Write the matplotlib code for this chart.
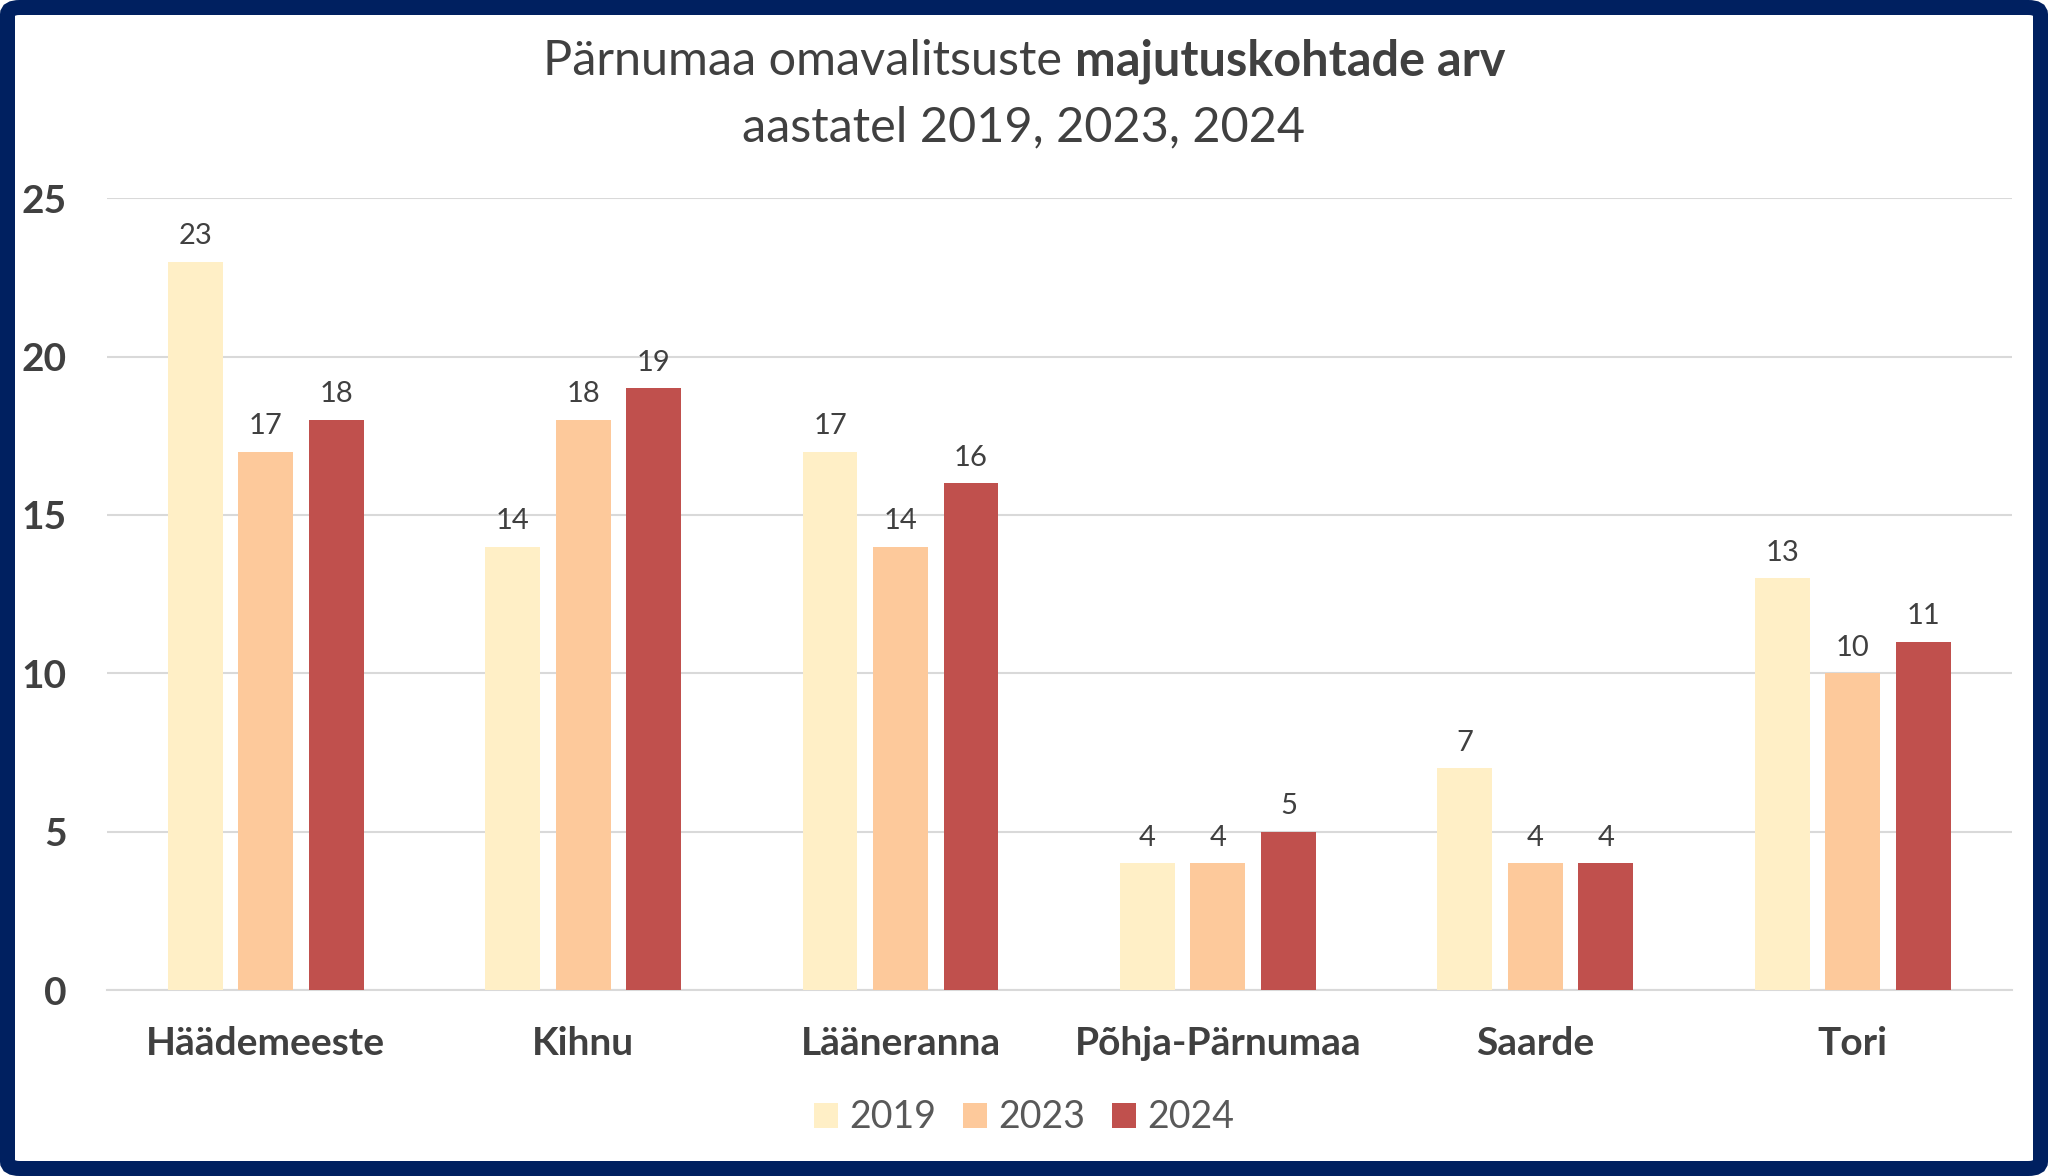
import matplotlib
matplotlib.use("Agg")
import matplotlib.pyplot as plt
import numpy as np
from matplotlib.patches import FancyBboxPatch, Patch

categories = ["Häädemeeste", "Kihnu", "Lääneranna", "Põhja-Pärnumaa", "Saarde", "Tori"]
years = ["2019", "2023", "2024"]
v2019 = [23, 14, 17, 4, 7, 13]
v2023 = [17, 18, 14, 4, 4, 10]
v2024 = [18, 19, 16, 5, 4, 11]
yticks = [0, 5, 10, 15, 20, 25]

colors = ["#FFEFC6", "#FDC99B", "#C0504D"]
txt = "#404040"
plt.rcParams['font.family'] = ['Lato', 'DejaVu Sans']

fig = plt.figure(figsize=(20.48, 11.76), dpi=100)
ax = fig.add_axes([0.0522, 0.158, 0.930, 0.6735])

x = np.arange(len(categories))
w = 0.173
off = 0.222
series = [v2019, v2023, v2024]
for i, (vals, c) in enumerate(zip(series, colors)):
    bars = ax.bar(x + (i - 1) * off, vals, width=w, color=c, zorder=3, label=years[i])
    for b, v in zip(bars, vals):
        ax.annotate(str(v), (b.get_x() + b.get_width() / 2, v), xytext=(0, 9),
                    textcoords="offset points", ha="center", va="bottom",
                    fontsize=21, color=txt)

ax.set_xlim(-0.5, len(categories) - 0.5)
ax.set_ylim(0, 25)
ax.set_yticks(yticks)
ax.set_yticklabels([str(t) for t in yticks], fontsize=28, fontweight="bold", color=txt)
ax.set_xticks(x)
ax.set_xticklabels(categories, fontsize=28, fontweight="bold", color=txt)
ax.tick_params(axis="y", length=0, pad=29)
ax.tick_params(axis="x", length=0, pad=26)
ax.grid(axis="y", color="#D9D9D9", linewidth=1.5, zorder=0)
for s in ["top", "right", "left"]:
    ax.spines[s].set_visible(False)
ax.spines["bottom"].set_color("#D9D9D9")
ax.spines["bottom"].set_linewidth(1.5)

# Title with mixed weight
t1 = fig.text(0.5, 0.948, "Pärnumaa omavalitsuste ", fontsize=35, color=txt, ha="right", va="center")
t2 = fig.text(0.5, 0.948, "majutuskohtade arv", fontsize=35, color=txt, ha="left", va="center", fontweight="bold")
fig.canvas.draw()
r = fig.canvas.get_renderer()
w1 = t1.get_window_extent(r).width / fig.bbox.width
w2 = t2.get_window_extent(r).width / fig.bbox.width
split = 0.5 - (w1 + w2) / 2 + w1
t1.set_x(split)
t2.set_x(split)
fig.text(0.5, 0.892, "aastatel 2019, 2023, 2024", fontsize=35, color=txt, ha="center", va="center")

handles = [Patch(facecolor=c, edgecolor="none") for c in colors]
fig.legend(handles, years, loc="center", bbox_to_anchor=(0.5, 0.05), ncol=3, frameon=False,
           fontsize=27, labelcolor="#595959", handlelength=0.65, handleheight=0.65,
           handletextpad=0.3, columnspacing=0.7)

lw_px = 15
lw_pt = lw_px * 72 / 100
inset_x = (lw_px / 2) / 2048
inset_y = (lw_px / 2) / 1176
border = FancyBboxPatch((inset_x, inset_y), 1 - 2 * inset_x, 1 - 2 * inset_y,
                        boxstyle="round,pad=0,rounding_size=0.006",
                        transform=fig.transFigure, facecolor="none",
                        edgecolor="#002060", linewidth=lw_pt, zorder=10)
fig.patches.append(border)

fig.savefig("out.png", dpi=100, facecolor="white")
